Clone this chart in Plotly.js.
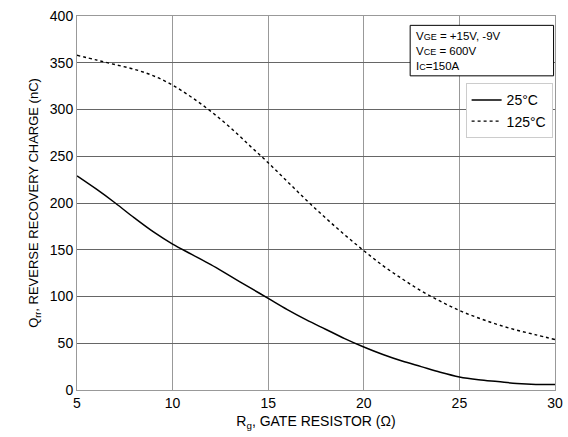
<!DOCTYPE html>
<html><head><meta charset="utf-8">
<script src="https://cdn.plot.ly/plotly-3.0.1.min.js"></script>
<style>body{margin:0;background:#fff}#c{width:568px;height:437px}</style>
</head><body><div id="c"></div>
<script>
const rg25 = [5, 6, 7, 8, 9, 10, 11, 12, 13, 14, 15, 16, 17, 18, 19, 20, 21, 22, 23, 24, 25, 26, 27, 28, 29, 30];
const q25 = [229, 215, 200, 184, 169, 156, 145, 134, 122, 110, 98, 86, 75, 65, 55, 46, 38, 31, 25, 19, 14, 11, 9, 7, 6, 6];
const rg125 = [5, 6, 7, 8, 9, 10, 11, 12, 13, 14, 15, 16, 17, 18, 19, 20, 21, 22, 23, 24, 25, 26, 27, 28, 29, 30];
const q125 = [358, 353, 348, 343, 336, 326, 313, 298, 281, 262, 243, 223, 203, 184, 166, 149, 133, 119, 106, 95, 85, 77, 70, 64, 59, 54];
const xTicks = [5, 10, 15, 20, 25, 30];
const yTicks = [0, 50, 100, 150, 200, 250, 300, 350, 400];
const condLines = [
  'V<span style="font-size:9px">GE</span> = +15V, -9V',
  'V<span style="font-size:9px">CE</span> = 600V',
  'I<span style="font-size:9px">C</span>=150A'
];

const traces = [
  {x: rg25, y: q25, name: '25°C', mode: 'lines', line: {color: '#000', width: 1.5, shape: 'spline'}},
  {x: rg125, y: q125, name: '125°C', mode: 'lines', line: {color: '#000', width: 1.4, dash: 'dot', shape: 'spline'}}
];
const f = {family: 'Liberation Sans, Arial, sans-serif', color: '#000'};
const layout = {
  width: 568, height: 437,
  margin: {l: 77, r: 13, t: 16, b: 47},
  paper_bgcolor: '#fff', plot_bgcolor: '#fff',
  showlegend: true,
  legend: {x: 0.995, y: 0.82, xanchor: 'right', yanchor: 'top', bgcolor: '#fff', bordercolor: '#ccc', borderwidth: 1,
           font: {family: f.family, size: 14, color: '#000'}, itemwidth: 30, tracegroupgap: 0},
  xaxis: {range: [5, 30], tickvals: xTicks, ticks: '', showgrid: true, gridcolor: '#999', gridwidth: 1,
          zeroline: false, showline: true, linecolor: '#999', mirror: true,
          tickfont: {family: f.family, size: 14, color: '#000'},
          title: {text: 'R<sub>g</sub>, GATE RESISTOR (Ω)', font: {family: f.family, size: 14, color: '#000'}, standoff: 6}},
  yaxis: {range: [0, 400], tickvals: yTicks, ticks: '', showgrid: true, gridcolor: '#666', gridwidth: 1,
          zeroline: false, showline: true, linecolor: '#999', mirror: true,
          tickfont: {family: f.family, size: 14, color: '#000'},
          title: {text: 'Q<sub>rr</sub>, REVERSE RECOVERY CHARGE (nC)', font: {family: f.family, size: 13, color: '#000'}, standoff: 8}},
  shapes: [{type: 'rect', xref: 'paper', yref: 'paper', x0: 0.697, x1: 0.997, y0: 0.840, y1: 0.975,
            line: {color: '#000', width: 1}, fillcolor: '#fff', layer: 'above'}],
  annotations: [{
    xref: 'paper', yref: 'paper', x: 0.706, y: 0.968, xanchor: 'left', yanchor: 'top', align: 'left',
    text: condLines.join('<br>'), showarrow: false, font: {family: f.family, size: 11.5, color: '#000'}
  }]
};
Plotly.newPlot('c', traces, layout, {displayModeBar: false, staticPlot: true});
</script></body></html>
